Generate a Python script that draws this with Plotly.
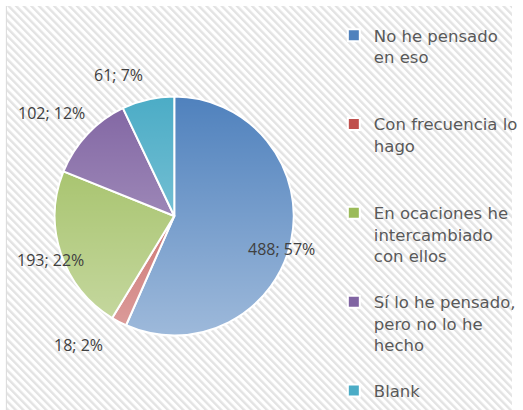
import base64
import math
import plotly.graph_objects as go

# ---- data ----
categories = [
    "No he pensado<br>en eso",
    "Con frecuencia lo<br>hago",
    "En ocaciones he<br>intercambiado<br>con ellos",
    "Sí lo he pensado,<br>pero no lo he<br>hecho",
    "Blank",
]
values = [488, 18, 193, 102, 61]

# ---- style ----
colors = ["#4F81BD", "#C0504D", "#9BBB59", "#8064A2", "#4BACC6"]
# data-label placement (Excel "best fit"): radial factor along slice mid-angle + pixel nudge
label_radial = [0.92, 1.33, 1.094, 1.328, 1.246]
label_nudge = [(0, 10), (-23, -15), (0, 2), (-7, 8), (-23, 7)]

W, H = 523, 410
cx, cy, r = 178, 216, 122


def pad(label, n=4):
    lines = label.count("<br>") + 1
    return label + "<br>\u00a0" * max(0, n - lines)


legend_labels = [pad(c) for c in categories[:-1]] + [categories[-1]]

# hatched chart-area background
hatch_svg = (
    f"<svg xmlns='http://www.w3.org/2000/svg' width='{W-7}' height='{H-6}'>"
    "<defs><pattern id='p' width='5.5' height='5.5' patternUnits='userSpaceOnUse' "
    "patternTransform='rotate(-45)'>"
    "<rect width='5.5' height='5.5' fill='#ffffff'/>"
    "<rect width='2.4' height='5.5' fill='#e3e3e3'/></pattern></defs>"
    "<rect width='100%' height='100%' fill='url(#p)'/></svg>"
)
# vertical light gradient laid over the pie (Excel gradient fill look)
d = 2 * r
grad_svg = (
    f"<svg xmlns='http://www.w3.org/2000/svg' width='{d}' height='{d}'>"
    "<defs><linearGradient id='g' x1='0' y1='0' x2='0' y2='1'>"
    "<stop offset='0' stop-color='#ffffff' stop-opacity='0'/>"
    "<stop offset='1' stop-color='#ffffff' stop-opacity='0.45'/>"
    "</linearGradient></defs>"
    f"<circle cx='{r}' cy='{r}' r='{r-1}' fill='url(#g)'/></svg>"
)


def uri(s):
    return "data:image/svg+xml;base64," + base64.b64encode(s.encode()).decode()


fig = go.Figure(
    go.Pie(
        labels=legend_labels,
        values=values,
        sort=False,
        direction="clockwise",
        rotation=0,
        marker=dict(colors=colors, line=dict(color="#ffffff", width=2)),
        textinfo="none",
        domain=dict(
            x=[(cx - r) / W, (cx + r) / W],
            y=[(H - cy - r) / H, (H - cy + r) / H],
        ),
    )
)

# data labels "value; percent" positioned from the slice geometry
total = sum(values)
annotations = []
cum = 0
for v, f, (nx, ny) in zip(values, label_radial, label_nudge):
    mid = (cum + v / 2) / total * 2 * math.pi
    cum += v
    px = cx + f * r * math.sin(mid) + nx
    py = cy - f * r * math.cos(mid) + ny
    annotations.append(
        dict(
            text=f"{v}; {round(v / total * 100)}%",
            x=px / W,
            y=1 - py / H,
            xref="paper",
            yref="paper",
            xanchor="center",
            yanchor="middle",
            showarrow=False,
            font=dict(family="Open Sans", size=16, color="#404040"),
        )
    )

fig.update_layout(
    width=W,
    height=H,
    margin=dict(l=0, r=0, t=0, b=0),
    paper_bgcolor="#ffffff",
    showlegend=True,
    legend=dict(
        x=341 / W,
        y=1 - 18 / H,
        xanchor="left",
        yanchor="top",
        valign="top",
        font=dict(family="DejaVu Sans", size=16.5, color="#595959"),
        bgcolor="rgba(0,0,0,0)",
    ),
    annotations=annotations,
    images=[
        dict(source=uri(hatch_svg), xref="paper", yref="paper", x=7 / W, y=1 - 6 / H,
             sizex=(W - 7) / W, sizey=(H - 6) / H, xanchor="left", yanchor="top",
             sizing="stretch", layer="below"),
        dict(source=uri(grad_svg), xref="paper", yref="paper", x=(cx - r) / W,
             y=1 - (cy - r) / H, sizex=d / W, sizey=d / H, xanchor="left",
             yanchor="top", sizing="stretch", layer="above"),
    ],
    shapes=[
        dict(type="line", xref="paper", yref="paper", x0=6.5 / W, x1=6.5 / W,
             y0=0, y1=1 - 6 / H, line=dict(color="#d9d9d9", width=1)),
    ],
)

fig.write_html(
    "out.html",
    config={"displayModeBar": False},
    post_script="document.body.style.margin='0';document.body.style.overflow='hidden';",
)
